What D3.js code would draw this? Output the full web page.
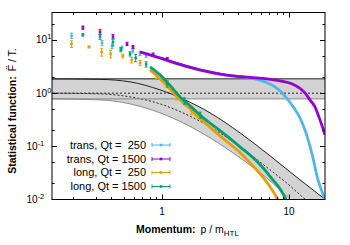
<!DOCTYPE html>
<meta charset="utf-8">
<head>
<script src="https://cdnjs.cloudflare.com/ajax/libs/d3/7.8.5/d3.min.js"></script>
<style>
body {margin: 0; background: #fff;}
text {font-family: "Liberation Sans", Arial, sans-serif; fill: #000;}
</style>
</head>
<body>
<script>
// plot box
var W = 350, H = 245;
var x0 = 52, x1 = 325, y0 = 12.5, y1 = 199.5;

// data: [p / m_HTL, F/T, error]
var transQ250Pts = [[0.194,12.1,1.4],[0.337,8.8,1.0],[0.404,7.7,0.8],[0.484,7.1,0.6],[0.59,6.3,0.6],[0.671,5.6,0.5],[0.75,5.1,0.4]];
var transQ1500Pts = [[0.238,17.1,1.2],[0.325,14.2,1.5],[0.411,11.6,1.2],[0.53,8.45,0.6],[0.59,7.4,0.5],[0.85,5.3,0.4],[1.1,4.4,0.3]];
var longQ250Pts = [[0.194,8.45,1.2],[0.266,7.4,0.3],[0.335,5.97,1.0],[0.394,5.48,0.9],[0.49,5.0,0.4],[0.577,4.2,0.5],[0.671,3.7,0.4],[0.9,2.2,0.3],[1.3,0.9,0.15],[1.7,0.48,0.08]];
var longQ1500Pts = [[0.238,12.5,0.6],[0.325,11.6,1.3],[0.411,9.2,1.4],[0.473,6.6,0.6],[0.56,5.5,0.5],[0.62,4.6,0.7],[0.75,3.5,0.4],[1.1,1.5,0.2],[1.5,0.72,0.1],[2.0,0.39,0.05]];

// dense parts, drawn as thick lines
var transQ250Line = [[0.964,4.55],[1.266,3.66],[1.991,2.72],[3.13,2.2],[4.11,2.04],[5.40,1.86],[6.47,1.63],[7.76,1.31],[8.81,1.01],[9.82,0.748],[10.94,0.529],[12.2,0.343],[13.6,0.179],[15.1,0.0755],[16.9,0.0235],[18.2,0.014],[19.2,0.01]];
var transQ1500Line = [[0.671,5.97],[0.804,5.25],[0.964,4.61],[1.266,3.71],[1.991,2.74],[3.13,2.21],[4.93,1.98],[6.71,1.86],[8.49,1.70],[10.5,1.50],[12.2,1.23],[13.4,1.0],[14.6,0.748],[16.0,0.553],[17.2,0.358],[18.2,0.243],[19.2,0.1645]];
var longQ250Line = [[0.804,2.74],[0.964,1.86],[1.156,1.2],[1.386,0.748],[1.662,0.507],[1.991,0.329],[2.52,0.204],[3.19,0.127],[3.97,0.0823],[4.93,0.049],[5.91,0.0304],[7.09,0.0173],[8.15,0.01],[9,0.006]];
var longQ1500Line = [[0.804,3.12],[0.964,2.21],[1.156,1.4],[1.386,0.852],[1.662,0.577],[2.065,0.358],[2.615,0.2325],[3.31,0.151],[4.11,0.0979],[5.11,0.0635],[6.13,0.0412],[7.35,0.0245],[8.49,0.0159],[9.47,0.01],[10.5,0.006]];

// flat band
var flatHi = 1.86, flatMid = 1.0, flatLo = 0.78;
// falling band
var bandP   = [0.13,0.325,0.56,0.964,1.517,2.388,4.11,7.09,10.18,12.2,13.4,19.2,23.0];
var bandHi  = [1.857,1.817,1.631,1.153,0.7483,0.4263,0.1794,0.0663,0.03317,0.02346,0.01973,0.01009,0.00729];
var bandMid = [1.0,0.970,0.852,0.629,0.4083,0.2325,0.0979,0.03616,0.01809,0.01226,0.01009,0.00494,0.00349];
var bandLo  = [0.7814,0.7483,0.629,0.4263,0.2649,0.1445,0.0608,0.02246,0.01009,0.00698,0.00587,0.00294,0.00208];

var names = ["trans, Qt =  250", "trans, Qt = 1500", "long, Qt =  250", "long, Qt = 1500"];
var colors = ["#56b4e9", "#9400d3", "#e69f00", "#009e73"];

var xMajor = [1, 10];
var xMinor = [0.2,0.3,0.4,0.5,0.6,0.7,0.8,0.9,2,3,4,5,6,7,8,9];
var yMajor = [0.01, 0.1, 1, 10];
var yMinor = [0.02,0.05,0.2,0.5,2,5,20];
var yExp = ["-2", "-1", "0", "1"];

var svg = d3.select("body").append("svg")
  .attr("width", W)
  .attr("height", H);

var x = d3.scaleLog().domain([0.136, 19.2]).range([x0, x1]);
var y = d3.scaleLog().domain([0.01, 32.9]).range([y1, y0]);

svg.append("clipPath").attr("id", "clip")
  .append("rect")
  .attr("x", x0).attr("y", y0)
  .attr("width", x1 - x0).attr("height", y1 - y0);

var plot = svg.append("g").attr("clip-path", "url(#clip)");

// bands
var band = bandP.map((p, i) => ({p: p, hi: bandHi[i], mid: bandMid[i], lo: bandLo[i]}));
var fill = "#d3d3d3";
plot.append("rect")
  .attr("x", x0).attr("width", x1 - x0)
  .attr("y", y(flatHi)).attr("height", y(flatLo) - y(flatHi))
  .style("fill", fill);
plot.append("path")
  .datum(band)
  .attr("d", d3.area().x(d => x(d.p)).y0(d => y(d.lo)).y1(d => y(d.hi)).curve(d3.curveMonotoneX))
  .style("fill", fill);

function edge(key, col, dash) {
  plot.append("path")
    .datum(band)
    .attr("d", d3.line().x(d => x(d.p)).y(d => y(d[key])).curve(d3.curveMonotoneX))
    .style("fill", "none").style("stroke", col).style("stroke-width", 1)
    .style("stroke-dasharray", dash);
}
edge("hi", "#222", null);
edge("lo", "#888", null);
edge("mid", "#222", "2,2");

function flat(v, col, dash) {
  plot.append("line")
    .attr("x1", x0).attr("x2", x1)
    .attr("y1", y(v)).attr("y2", y(v))
    .style("stroke", col).style("stroke-width", 1)
    .style("stroke-dasharray", dash);
}
flat(flatHi, "#222", null);
flat(flatLo, "#888", null);
flat(flatMid, "#222", "2,2");

// series
var pts = [transQ250Pts, transQ1500Pts, longQ250Pts, longQ1500Pts];
var lines = [transQ250Line, transQ1500Line, longQ250Line, longQ1500Line];

var line = d3.line().x(d => x(d[0])).y(d => y(d[1])).curve(d3.curveMonotoneX);

pts.forEach(function(data, k) {
  var col = colors[k];
  plot.append("path")
    .datum(lines[k])
    .attr("d", line)
    .style("fill", "none").style("stroke", col).style("stroke-width", 2.8);

  var g = plot.append("g").selectAll("g")
    .data(data)
    .enter().append("g");
  g.append("line")
    .attr("x1", d => x(d[0])).attr("x2", d => x(d[0]))
    .attr("y1", d => y(d[1] - d[2])).attr("y2", d => y(d[1] + d[2]))
    .style("stroke", col).style("stroke-width", 1);
  g.append("line")
    .attr("x1", d => x(d[0]) - 1.5).attr("x2", d => x(d[0]) + 1.5)
    .attr("y1", d => y(d[1] - d[2])).attr("y2", d => y(d[1] - d[2]))
    .style("stroke", col).style("stroke-width", 1);
  g.append("line")
    .attr("x1", d => x(d[0]) - 1.5).attr("x2", d => x(d[0]) + 1.5)
    .attr("y1", d => y(d[1] + d[2])).attr("y2", d => y(d[1] + d[2]))
    .style("stroke", col).style("stroke-width", 1);
  g.append("rect")
    .attr("x", d => x(d[0]) - 1.3).attr("y", d => y(d[1]) - 1.3)
    .attr("width", 2.6).attr("height", 2.6)
    .style("fill", col);
});

// frame and ticks
svg.append("rect")
  .attr("x", x0).attr("y", y0)
  .attr("width", x1 - x0).attr("height", y1 - y0)
  .style("fill", "none").style("stroke", "#000").style("stroke-width", 1);

function ticks(vals, len) {
  vals.forEach(function(v) {
    var xx = Math.round(x(v)) + 0.5;
    svg.append("line").attr("x1", xx).attr("x2", xx).attr("y1", y1).attr("y2", y1 - len).style("stroke", "#000");
    svg.append("line").attr("x1", xx).attr("x2", xx).attr("y1", y0).attr("y2", y0 + len).style("stroke", "#000");
  });
}
function yticks(vals, len) {
  vals.forEach(function(v) {
    var yy = Math.round(y(v)) + 0.5;
    svg.append("line").attr("y1", yy).attr("y2", yy).attr("x1", x0).attr("x2", x0 + len).style("stroke", "#000");
    svg.append("line").attr("y1", yy).attr("y2", yy).attr("x1", x1).attr("x2", x1 - len).style("stroke", "#000");
  });
}
ticks(xMajor, 5);
ticks(xMinor, 2.5);
yticks(yMajor.slice(1), 5);
yticks(yMinor, 2.5);

// tick labels
svg.selectAll(".xl")
  .data(xMajor)
  .enter().append("text")
  .attr("x", d => x(d)).attr("y", 214.5)
  .attr("text-anchor", "middle")
  .style("font-size", "10px")
  .text(d => d);

yMajor.forEach(function(v, i) {
  var t = svg.append("text")
    .attr("x", yExp[i][0] == "-" ? 26.5 : 36)
    .attr("y", y(v) + 3.5)
    .style("font-size", "10px");
  t.append("tspan").text("10");
  t.append("tspan").attr("dy", -4).style("font-size", "7.5px").text(yExp[i]);
});

// axis titles
var xt = svg.append("text")
  .attr("x", 136).attr("y", 233)
  .style("font-size", "10.5px");
xt.append("tspan").style("font-weight", "bold").text("Momentum:");
xt.append("tspan").attr("dx", 5).text("p / m");
xt.append("tspan").attr("dy", 3).style("font-size", "8px").text("HTL");

var yt = svg.append("text")
  .attr("transform", "translate(15.5,111) rotate(-90)")
  .attr("text-anchor", "middle")
  .style("font-size", "10.5px");
yt.append("tspan").style("font-weight", "bold").text("Statistical function:");
yt.append("tspan").attr("dx", 5).text("F\u0308 / T.");

// legend
var legY = [145, 159, 172.5, 186.5];
names.forEach(function(n, i) {
  svg.append("text")
    .attr("x", 146).attr("y", legY[i] + 3.8)
    .attr("text-anchor", "end")
    .style("font-size", "11px")
    .style("white-space", "pre")
    .text(n);
  var g = svg.append("g").style("stroke", colors[i]);
  g.append("line").attr("x1", 152).attr("x2", 170).attr("y1", legY[i]).attr("y2", legY[i]);
  g.append("line").attr("x1", 152).attr("x2", 152).attr("y1", legY[i] - 2).attr("y2", legY[i] + 2);
  g.append("line").attr("x1", 170).attr("x2", 170).attr("y1", legY[i] - 2).attr("y2", legY[i] + 2);
  g.append("rect").attr("x", 159.7).attr("y", legY[i] - 1.3).attr("width", 2.6).attr("height", 2.6)
    .style("fill", colors[i]).style("stroke", "none");
});
</script>
</body>
